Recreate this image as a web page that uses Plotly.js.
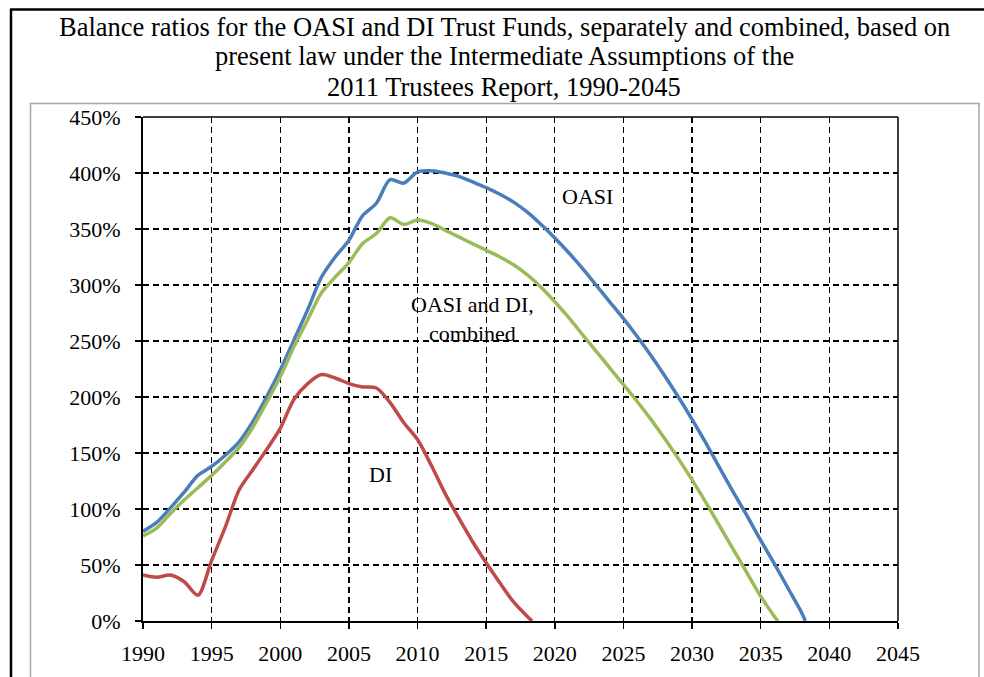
<!DOCTYPE html>
<html>
<head>
<meta charset="utf-8">
<script src="https://cdn.plot.ly/plotly-3.0.1.min.js"></script>
<style>
  html, body { margin: 0; padding: 0; background: #ffffff; }
  #chart { width: 984px; height: 677px; }
</style>
</head>
<body>
<div id="chart"></div>
<script>
// Balance ratios (percent)
var oasiYears = [1990,1991,1992,1993,1994,1995,1996,1997,1998,1999,2000,2001,2002,2003,2004,2005,2006,2007,2008,2009,2010,2011,2012,2013,2014,2015,2016,2017,2018,2019,2020,2021,2022,2023,2024,2025,2026,2027,2028,2029,2030,2031,2032,2033,2034,2035,2036,2037,2038,2038.25];
var oasiValues = [80,88,101,115,130,138,148,160,178,200,224,251,278,307,325,340,362,373,394,391,401,402,400,397,392,387,381,374,365,354,342,329,315,300,285,270,254,237,219,200,180,159,137,115,94,72,51,29,7,0];

var combinedYears = [1990,1991,1992,1993,1994,1995,1996,1997,1998,1999,2000,2001,2002,2003,2004,2005,2006,2007,2008,2009,2010,2011,2012,2013,2014,2015,2016,2017,2018,2019,2020,2021,2022,2023,2024,2025,2026,2027,2028,2029,2030,2031,2032,2033,2034,2035,2036,2036.25];
var combinedValues = [76,83,96,108,119,130,142,155,173,195,218,245,269,293,307,320,337,346,360,354,358,355,349,343,337,331,325,318,309,298,285,271,256,241,226,211,196,180,163,145,126,106,85,64,43,22,4,0];

var diYears = [1990,1991,1992,1993,1994,1995,1996,1997,1998,1999,2000,2001,2002,2003,2004,2005,2006,2007,2008,2009,2010,2011,2012,2013,2014,2015,2016,2017,2018,2018.35];
var diValues = [41,39,41,35,23,54,84,117,135,153,172,198,212,220,217,212,209,208,195,177,162,139,114,92,71,52,34,17,4,0];

var xTicks = [1990,1995,2000,2005,2010,2015,2020,2025,2030,2035,2040,2045];
var yTicks = [0,50,100,150,200,250,300,350,400,450];

var titleLines = [
  'Balance ratios for the OASI and DI Trust Funds, separately and combined, based on',
  'present law under the Intermediate Assumptions of the',
  '2011 Trustees Report, 1990-2045'
];

var serif = '"Liberation Serif", "Times New Roman", Times, serif';

var lineStyle = function (color) {
  return {color: color, width: 3.5, shape: 'spline', smoothing: 0.8};
};

var traces = [
  {x: oasiYears, y: oasiValues, type: 'scatter', mode: 'lines', name: 'OASI', line: lineStyle('#4a7ebb')},
  {x: combinedYears, y: combinedValues, type: 'scatter', mode: 'lines', name: 'OASI and DI, combined', line: lineStyle('#9bbb59')},
  {x: diYears, y: diValues, type: 'scatter', mode: 'lines', name: 'DI', line: lineStyle('#be4b48')}
];

function px2x(px) { return (px - 143) / 755; }
function px2y(py) { return (621 - py) / 504; }

var titleY = [27, 56.5, 86.5];
var annotations = titleLines.map(function (t, i) {
  return {xref: 'paper', yref: 'paper', x: px2x(504), y: px2y(titleY[i]), xanchor: 'center', yanchor: 'middle',
          text: t, showarrow: false, font: {family: serif, size: 26.5, color: '#000000'}};
});
annotations.push(
  {x: 2022.4, y: 379, xref: 'x', yref: 'y', text: 'OASI', showarrow: false, font: {family: serif, size: 22, color: '#000000'}},
  {x: 2014.0, y: 270, xref: 'x', yref: 'y', text: 'OASI and DI,<br>combined', showarrow: false, font: {family: serif, size: 22, color: '#000000'}},
  {x: 2007.3, y: 131, xref: 'x', yref: 'y', text: 'DI', showarrow: false, font: {family: serif, size: 22, color: '#000000'}}
);

var axisCommon = {
  showgrid: true,
  gridcolor: '#000000',
  gridwidth: 1.2,
  griddash: '6px,4px',
  zeroline: false,
  showline: true,
  linecolor: '#000000',
  linewidth: 2,
  ticks: 'outside',
  ticklen: 6,
  tickwidth: 1.5,
  tickcolor: '#000000',
  tickfont: {family: serif, size: 22, color: '#000000'},
  fixedrange: true
};

var layout = {
  width: 984,
  height: 677,
  paper_bgcolor: '#ffffff',
  plot_bgcolor: '#ffffff',
  showlegend: false,
  margin: {l: 143, r: 86, t: 117, b: 56, pad: 0},
  font: {family: serif, size: 22, color: '#000000'},
  xaxis: Object.assign({}, axisCommon, {
    range: [1990, 2045],
    tickvals: xTicks,
    ticktext: xTicks.map(String),
    ticklabelstandoff: 6
  }),
  yaxis: Object.assign({}, axisCommon, {
    range: [0, 450],
    tickvals: yTicks,
    ticktext: yTicks.map(function (v) { return v + '%'; }),
    ticklabelstandoff: 10
  }),
  shapes: [
    {type: 'line', xref: 'paper', yref: 'paper', x0: 1, x1: 1, y0: 0, y1: 1, line: {color: '#000000', width: 1.5}},
    {type: 'line', xref: 'paper', yref: 'paper', x0: 0, x1: 1, y0: 1, y1: 1, line: {color: '#000000', width: 1.5}},
    {type: 'rect', xref: 'paper', yref: 'paper', x0: px2x(30.5), x1: px2x(979), y0: px2y(720), y1: px2y(103.5), line: {color: '#a6a6a6', width: 1.5}, fillcolor: 'rgba(0,0,0,0)'},
    {type: 'line', xref: 'paper', yref: 'paper', x0: px2x(11), x1: px2x(11), y0: px2y(9), y1: px2y(720), line: {color: '#000000', width: 2.5}},
    {type: 'line', xref: 'paper', yref: 'paper', x0: px2x(10), x1: px2x(1000), y0: px2y(9.5), y1: px2y(9.5), line: {color: '#000000', width: 2.5}}
  ],
  annotations: annotations
};

Plotly.newPlot('chart', traces, layout, {displayModeBar: false, staticPlot: true});
</script>
</body>
</html>
